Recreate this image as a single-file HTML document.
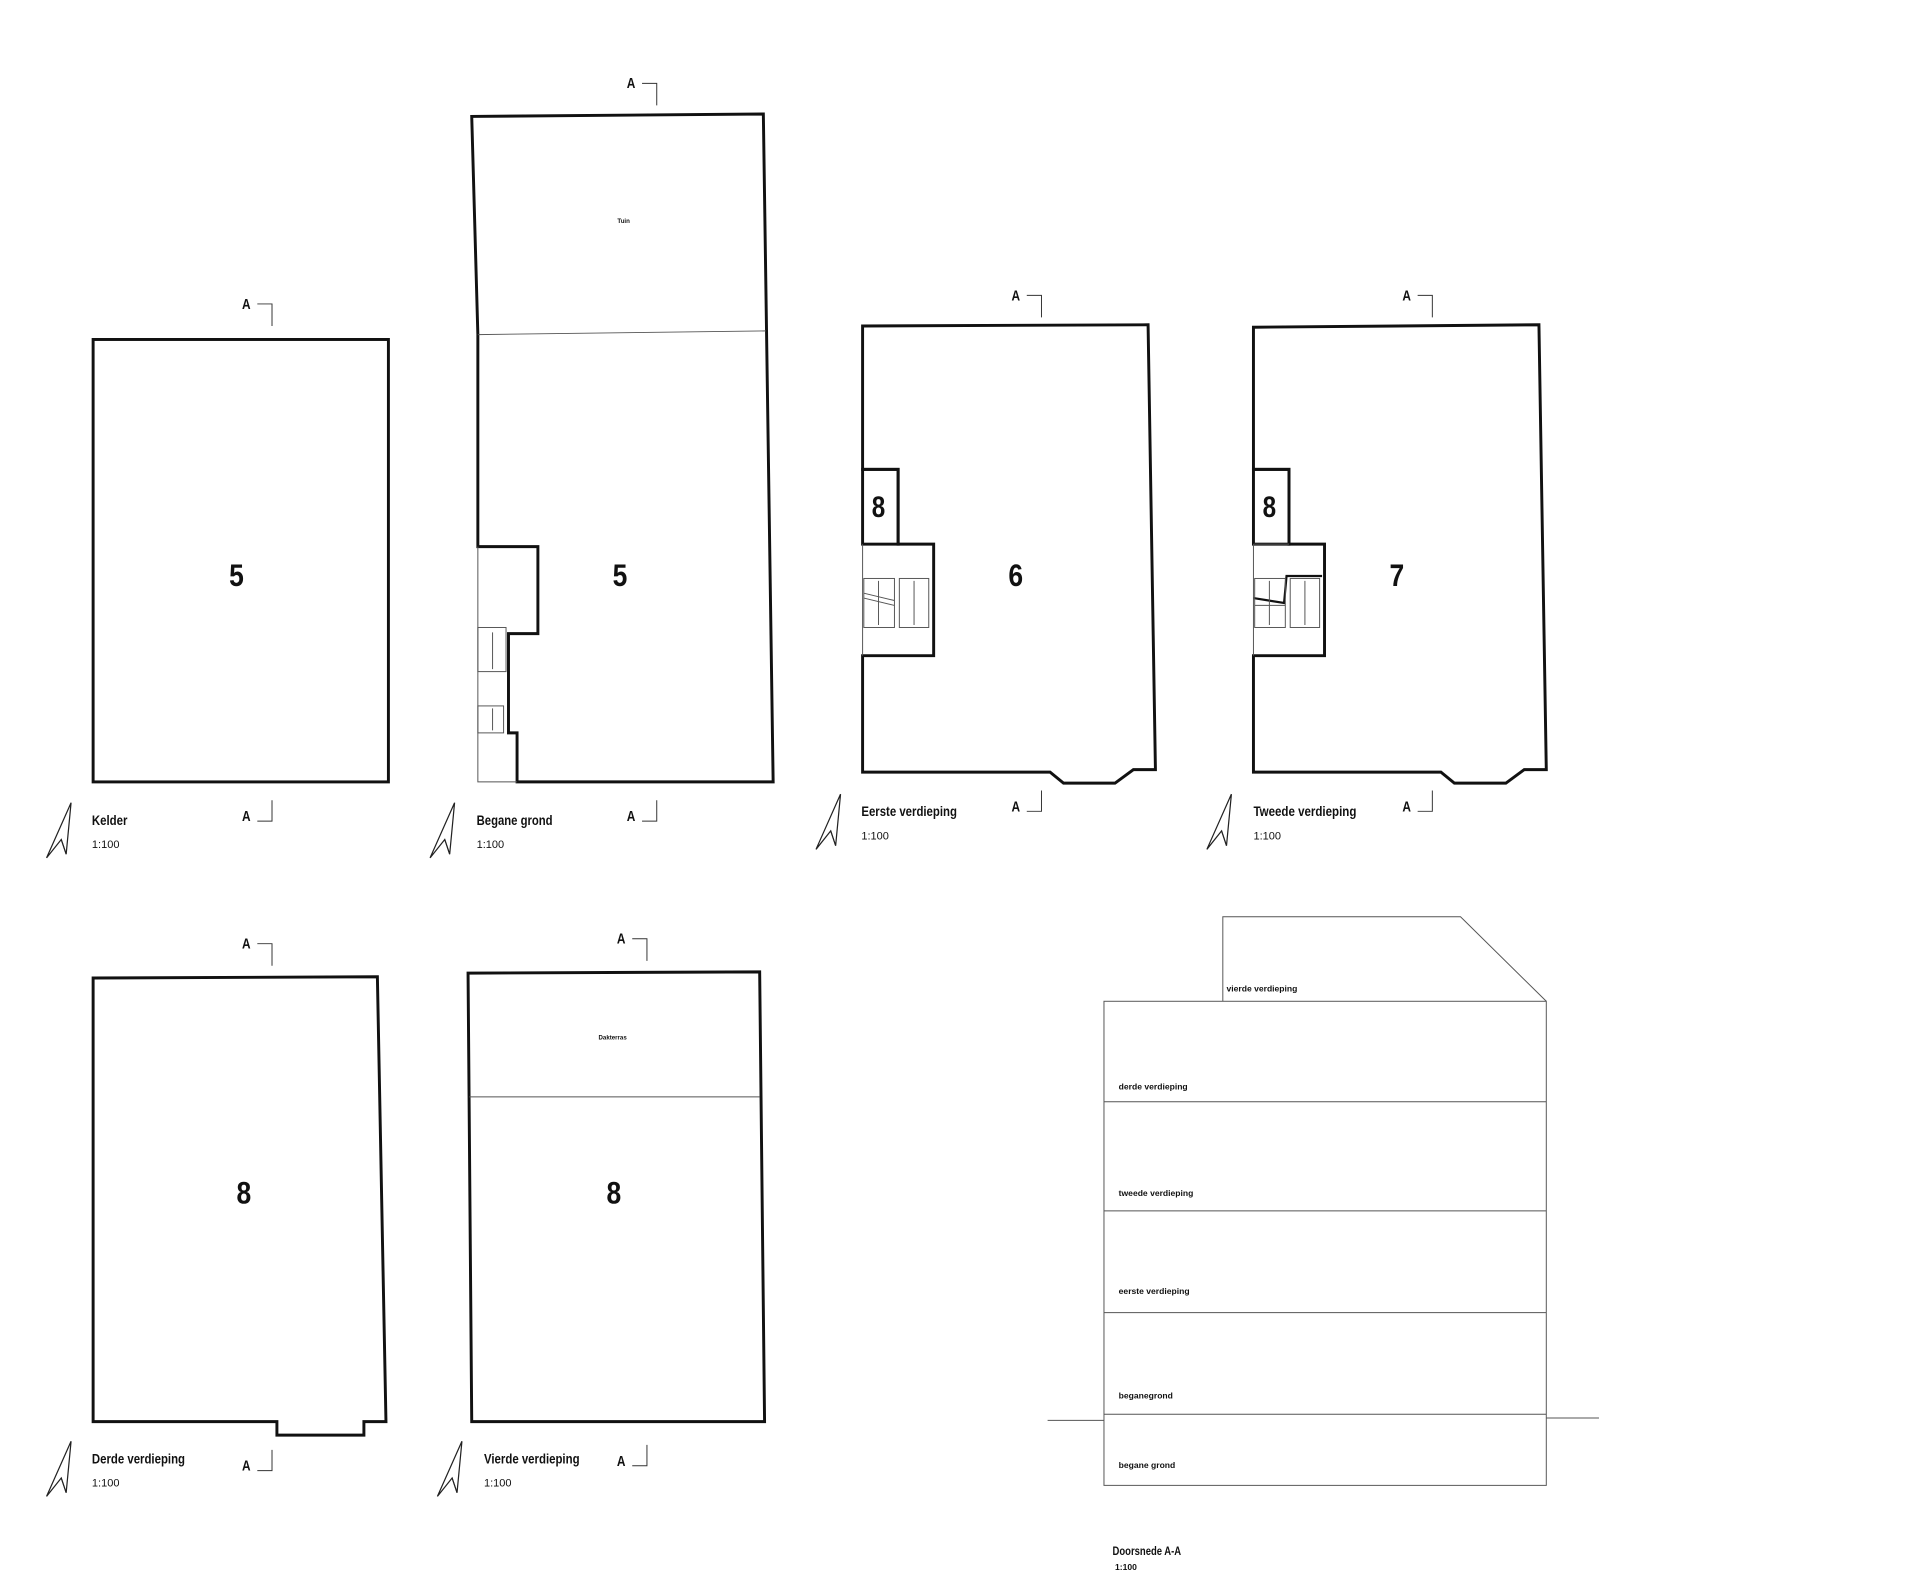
<!DOCTYPE html>
<html><head><meta charset="utf-8"><style>
html,body{margin:0;padding:0;background:#fff;}
svg{display:block;}
text{font-family:"Liberation Sans Narrow","Liberation Sans",sans-serif;font-weight:bold;fill:#111;}
.n{font-size:26px;text-anchor:middle;}
.t{font-size:11px;}
.s{font-size:9px;font-weight:normal;font-family:"Liberation Sans",sans-serif;}
.st{font-size:7px;}
</style></head><body>
<svg width="1920" height="1592" viewBox="0 0 1567 1299" preserveAspectRatio="none" xmlns="http://www.w3.org/2000/svg">
<defs>
<g id="na"><path d="M0,45 L20,0 L16,42 L12,30 Z" fill="none" stroke="#222" stroke-width="1"/><path d="M12,30 L16,42" stroke="#222" stroke-width="0.8"/></g>
<g id="at"><text x="0" y="0" class="t" style="font-size:12px" text-anchor="middle" textLength="7" lengthAdjust="spacingAndGlyphs">A</text><path d="M9,-4 H21 V14" fill="none" stroke="#333" stroke-width="0.8"/></g>
<g id="ab"><text x="0" y="0" class="t" style="font-size:12px" text-anchor="middle" textLength="7" lengthAdjust="spacingAndGlyphs">A</text><path d="M21,-17 V0 H9" fill="none" stroke="#333" stroke-width="0.8"/></g>
</defs>
<g fill="none" stroke="#111" stroke-width="2.4" stroke-linejoin="miter">
<rect x="76" y="277" width="241" height="361"/>
<path d="M390,273 L385,95 L623,93 L631,638 L422,638 L422,598 L415,598 L415,517 L439,517 L439,446 L390,446 Z"/>
<path d="M704,383 L704,266 L937,265 L943,628 L925,628 L910,639 L868,639 L857,630 L704,630 L704,535 L762,535 L762,444 L733,444 L733,383 Z"/>
<rect x="704" y="383" width="29" height="61"/>
<path d="M1023,383 L1023,267 L1256,265 L1262,628 L1244,628 L1229,639 L1187,639 L1176,630 L1023,630 L1023,535 L1081,535 L1081,444 L1052,444 L1052,383 Z"/>
<rect x="1023" y="383" width="29" height="61"/>
<path d="M1023,488 L1048,492 L1050,470 L1079,470" stroke-width="1.8"/>
<path d="M76,798 L308,797 L315,1160 L297,1160 L297,1171 L226,1171 L226,1160 L76,1160 Z"/>
<path d="M382,794 L620,793 L624,1160 L385,1160 Z"/>
</g>
<g fill="none" stroke="#555" stroke-width="0.8">
<path d="M390,273 L625,270"/>
<path d="M390,446 V638 H422"/>
<rect x="390" y="512" width="23" height="36"/><rect x="390" y="576" width="21" height="22"/>
<path d="M402,516 V546 M402,578 V596"/>
<path d="M704,444 V535"/>
<rect x="705" y="472" width="25" height="40"/><rect x="734" y="472" width="24" height="40"/>
<path d="M705,484 L730,490 M705,488 L730,494 M717,474 V510 M746,474 V510"/>
<path d="M1023,444 V535 M1023,444 H1052"/>
<rect x="1024" y="472" width="25" height="40"/><rect x="1053" y="472" width="24" height="40"/>
<path d="M1036,474 V510 M1065,474 V510 M1024,494 H1049"/>
<path d="M383,895 L620,895"/>
<rect x="901" y="817" width="361" height="395"/>
<path d="M901,899 H1262 M901,988 H1262 M901,1071 H1262 M901,1154 H1262"/>
<path d="M855,1159 H901 M1262,1157 H1305"/>
<path d="M998,817 V748 H1192 L1262,817"/>
</g>
<g class="n">
<text x="193" y="478" class="n" textLength="12" lengthAdjust="spacingAndGlyphs">5</text>
<text x="506" y="478" class="n" textLength="12" lengthAdjust="spacingAndGlyphs">5</text>
<text x="829" y="478" class="n" textLength="12" lengthAdjust="spacingAndGlyphs">6</text>
<text x="1140" y="478" class="n" textLength="12" lengthAdjust="spacingAndGlyphs">7</text>
<text x="717" y="422" class="n" style="font-size:24px" textLength="11" lengthAdjust="spacingAndGlyphs">8</text>
<text x="1036" y="422" class="n" style="font-size:24px" textLength="11" lengthAdjust="spacingAndGlyphs">8</text>
<text x="199" y="982" class="n" textLength="12" lengthAdjust="spacingAndGlyphs">8</text>
<text x="501" y="982" class="n" textLength="12" lengthAdjust="spacingAndGlyphs">8</text>
</g>
<text x="509" y="182" class="st" text-anchor="middle" style="font-size:5px">Tuin</text>
<text x="500" y="848" class="st" text-anchor="middle" style="font-size:5px">Dakterras</text>
<use href="#at" x="201" y="252"/><use href="#ab" x="201" y="670"/>
<use href="#at" x="515" y="72"/><use href="#ab" x="515" y="670"/>
<use href="#at" x="829" y="245"/><use href="#ab" x="829" y="662"/>
<use href="#at" x="1148" y="245"/><use href="#ab" x="1148" y="662"/>
<use href="#at" x="201" y="774"/><use href="#ab" x="201" y="1200"/>
<use href="#at" x="507" y="770"/><use href="#ab" x="507" y="1196"/>
<use href="#na" x="38" y="655"/><use href="#na" x="351" y="655"/>
<use href="#na" x="666" y="648"/><use href="#na" x="985" y="648"/>
<use href="#na" x="38" y="1176"/><use href="#na" x="357" y="1176"/>
<text x="75" y="673" class="t" textLength="29" lengthAdjust="spacingAndGlyphs">Kelder</text><text x="75" y="692" class="s">1:100</text>
<text x="389" y="673" class="t" textLength="62" lengthAdjust="spacingAndGlyphs">Begane grond</text><text x="389" y="692" class="s">1:100</text>
<text x="703" y="666" class="t" textLength="78" lengthAdjust="spacingAndGlyphs">Eerste verdieping</text><text x="703" y="685" class="s">1:100</text>
<text x="1023" y="666" class="t" textLength="84" lengthAdjust="spacingAndGlyphs">Tweede verdieping</text><text x="1023" y="685" class="s">1:100</text>
<text x="75" y="1194" class="t" textLength="76" lengthAdjust="spacingAndGlyphs">Derde verdieping</text><text x="75" y="1213" class="s">1:100</text>
<text x="395" y="1194" class="t" textLength="78" lengthAdjust="spacingAndGlyphs">Vierde verdieping</text><text x="395" y="1213" class="s">1:100</text>
<text x="1001" y="809" class="st">vierde verdieping</text>
<text x="913" y="889" class="st">derde verdieping</text>
<text x="913" y="976" class="st">tweede verdieping</text>
<text x="913" y="1056" class="st">eerste verdieping</text>
<text x="913" y="1141" class="st">beganegrond</text>
<text x="913" y="1198" class="st">begane grond</text>
<text x="908" y="1269" class="t" style="font-size:10px" textLength="56" lengthAdjust="spacingAndGlyphs">Doorsnede A-A</text>
<text x="910" y="1281" class="st">1:100</text>
</svg>
</body></html>
